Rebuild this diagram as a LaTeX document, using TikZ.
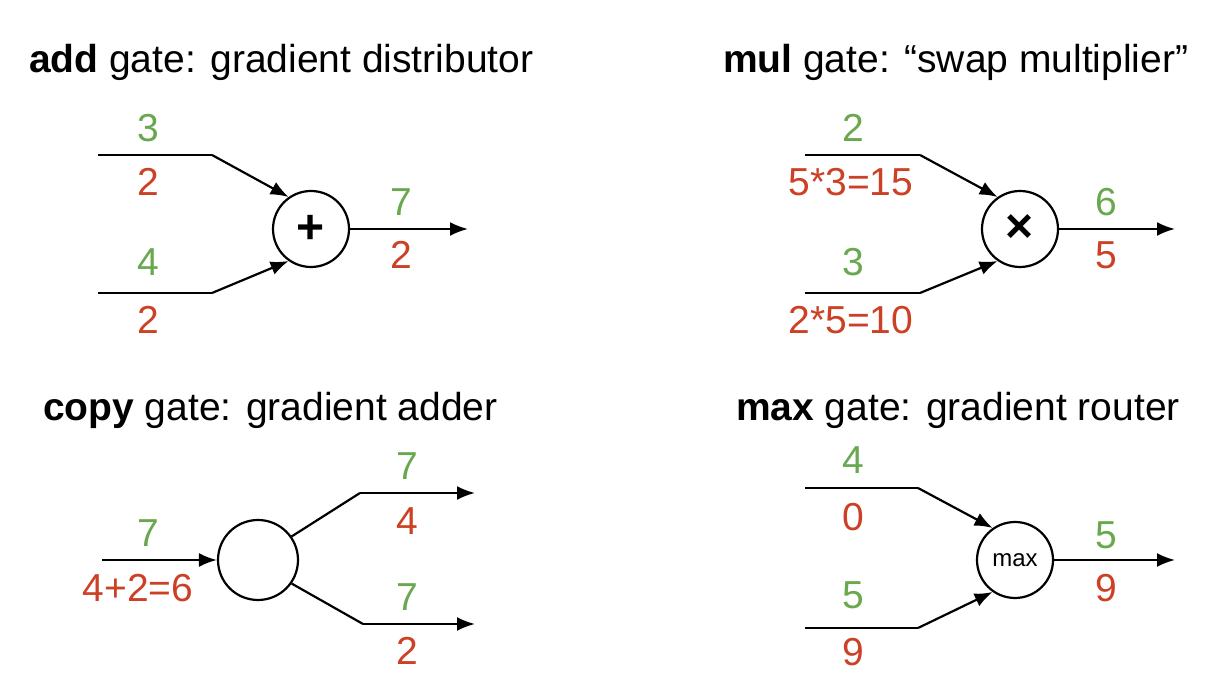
\documentclass[tikz,border=0pt]{standalone}
\usepackage{fontspec}
\setmainfont{Liberation Sans}
\usetikzlibrary{arrows.meta}
\definecolor{gr}{HTML}{6AA84F}
\definecolor{rd}{HTML}{CC4125}
\begin{document}
\begin{tikzpicture}[x=0.5pt,y=-0.5pt,
  gate/.style={draw,circle,line width=1.1pt,minimum size=38pt,inner sep=0pt},
  wire/.style={line width=1.1pt},
  arr/.style={line width=1.1pt,-{Latex[length=9pt,width=7pt]}},
  gv/.style={text=gr,font=\fontsize{19.5}{20}\selectfont},
  rv/.style={text=rd,font=\fontsize{19.5}{20}\selectfont},
  ttl/.style={anchor=west,font=\fontsize{19.5}{20}\selectfont}]
\useasboundingbox (0,0) rectangle (1206,683);
% add gate
\node[ttl] (t1) at (22,62) {\textbf{add} gate: gradient distributor};
\node[gate] (g1) at (311,229) {\fontsize{24}{24}\selectfont\textbf{+}};
\coordinate (a1) at (98,155); \coordinate (a2) at (212,155);
\coordinate (b1) at (98,293); \coordinate (b2) at (212,293);
\coordinate (o1) at (468,229);
\draw[wire] (a1) -- (a2); \draw[arr] (a2) -- (g1.125);
\draw[wire] (b1) -- (b2); \draw[arr] (b2) -- (g1.235);
\draw[arr] (g1.east) -- (o1);
\node[gv] (l1) at (148,128) {3}; \node[rv] (l2) at (148,182) {2};
\node[gv] (l3) at (148,262) {4}; \node[rv] (l4) at (148,320) {2};
\node[gv] (l5) at (401,202) {7}; \node[rv] (l6) at (401,255) {2};
% mul gate
\node[ttl] (t2) at (716,62) {\textbf{mul} gate: “swap multiplier”};
\node[gate] (g2) at (1020,229) {\fontsize{24}{24}\selectfont\textbf{×}};
\coordinate (c1) at (805,155); \coordinate (c2) at (920,155);
\coordinate (d1) at (805,293); \coordinate (d2) at (920,293);
\coordinate (o2) at (1175,229);
\draw[wire] (c1) -- (c2); \draw[arr] (c2) -- (g2.125);
\draw[wire] (d1) -- (d2); \draw[arr] (d2) -- (g2.235);
\draw[arr] (g2.east) -- (o2);
\node[gv] (m1) at (853,128) {2}; \node[rv] (m2) at (851,182) {5*3=15};
\node[gv] (m3) at (853,262) {3}; \node[rv] (m4) at (851,320) {2*5=10};
\node[gv] (m5) at (1106,202) {6}; \node[rv] (m6) at (1106,255) {5};
% copy gate
\node[ttl] (t3) at (36,410) {\textbf{copy} gate: gradient adder};
\node[gate,minimum size=40pt] (g3) at (258,560) {};
\coordinate (e1) at (102,560);
\coordinate (f1) at (360,493); \coordinate (f2) at (475,493);
\coordinate (h1) at (363,624); \coordinate (h2) at (475,624);
\draw[arr] (e1) -- (g3.west);
\draw[wire] (g3.35) -- (f1); \draw[arr] (f1) -- (f2);
\draw[wire] (g3.-35) -- (h1); \draw[arr] (h1) -- (h2);
\node[gv] (n1) at (148,533) {7}; \node[rv] (n2) at (138,588) {4+2=6};
\node[gv] (n3) at (407,466) {7}; \node[rv] (n4) at (407,521) {4};
\node[gv] (n5) at (407,597) {7}; \node[rv] (n6) at (407,651) {2};
% max gate
\node[ttl] (t4) at (729,410) {\textbf{max} gate: gradient router};
\node[gate] (g4) at (1015,560) {\fontsize{12}{12}\selectfont max};
\coordinate (p1) at (805,488); \coordinate (p2) at (918,488);
\coordinate (q1) at (805,628); \coordinate (q2) at (918,628);
\coordinate (o4) at (1175,560);
\draw[wire] (p1) -- (p2); \draw[arr] (p2) -- (g4.125);
\draw[wire] (q1) -- (q2); \draw[arr] (q2) -- (g4.235);
\draw[arr] (g4.east) -- (o4);
\node[gv] (r1) at (853,460) {4}; \node[rv] (r2) at (853,517) {0};
\node[gv] (r3) at (853,595) {5}; \node[rv] (r4) at (853,652) {9};
\node[gv] (r5) at (1106,535) {5}; \node[rv] (r6) at (1106,588) {9};
\end{tikzpicture}
\end{document}
